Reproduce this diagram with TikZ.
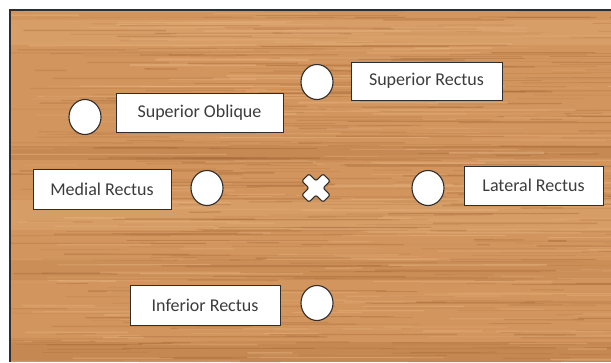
\documentclass[tikz,border=0pt]{standalone}
\usepackage{fontspec}
\setmainfont{Carlito}
\usetikzlibrary{shapes.geometric}
\definecolor{woodBase}{RGB}{210,149,93}
\definecolor{woodDark}{RGB}{160,98,50}
\definecolor{woodLight}{RGB}{232,182,130}
\definecolor{txt}{RGB}{60,60,60}
\definecolor{edge}{RGB}{50,45,45}
\tikzset{
  label box/.style={draw=edge, line width=0.9pt, fill=white, rectangle, inner sep=0pt,
    font=\fontsize{18}{21}\selectfont, text=txt},
  hole/.style={draw=edge, line width=1.1pt, fill=white, ellipse, inner sep=0pt,
    minimum width=32pt, minimum height=35pt},
}
\begin{document}
\begin{tikzpicture}[x=1pt,y=-1pt]
\useasboundingbox (0,0) rectangle (611,362);
% wood panel
\fill[woodBase] (10,10) rectangle (611,362);
\begin{scope}
\clip (10,10) rectangle (611,362);
\fill[woodDark,opacity=0.22] (10,146) rectangle (611,160);
\fill[woodDark,opacity=0.25] (10,342) rectangle (611,362);
\fill[woodLight,opacity=0.3] (10,20) rectangle (611,45);
\fill[woodLight,opacity=0.25] (10,200) rectangle (611,230);
\fill[woodDark,opacity=0.12] (10,260) rectangle (611,280);
\pgfmathsetseed{7}
\foreach \i in {1,...,450}{
  \pgfmathsetmacro\yy{10+rnd*352}
  \pgfmathsetmacro\xx{rnd*620}
  \pgfmathsetmacro\ll{30+rnd*200}
  \pgfmathsetmacro\oo{0.1+0.3*rnd}
  \pgfmathsetmacro\ww{0.4+1.2*rnd}
  \draw[woodDark,opacity=\oo,line width=\ww pt] (\xx,\yy) -- ++(\ll,0.6*rnd-0.3);
}
\foreach \i in {1,...,250}{
  \pgfmathsetmacro\yy{10+rnd*352}
  \pgfmathsetmacro\xx{rnd*620}
  \pgfmathsetmacro\ll{30+rnd*200}
  \pgfmathsetmacro\oo{0.15+0.35*rnd}
  \pgfmathsetmacro\ww{0.5+1.5*rnd}
  \draw[woodLight,opacity=\oo,line width=\ww pt] (\xx,\yy) -- ++(\ll,0.6*rnd-0.3);
}
\end{scope}
\draw[edge,line width=1.3pt] (10,362) -- (10,10) -- (611,10);
% holes
\node[hole] (sr) at (317,82) {};
\node[hole] (so) at (85,117) {};
\node[hole] (mr) at (207,188) {};
\node[hole] (lr) at (428,188) {};
\node[hole] (ir) at (317,303) {};
% labels
\node[label box, minimum width=151pt, minimum height=38pt] (srl) at (426.5,81) {Superior Rectus};
\node[label box, minimum width=167pt, minimum height=39pt] (sol) at (199.5,112.5) {Superior Oblique};
\node[label box, minimum width=138pt, minimum height=40pt] (mrl) at (102,189) {Medial Rectus};
\node[label box, minimum width=139pt, minimum height=39pt] (lrl) at (533.5,185.5) {Lateral Rectus};
\node[label box, minimum width=150pt, minimum height=40pt] (irl) at (205,305) {Inferior Rectus};
% centre cross
\begin{scope}[shift={(316,188)},rotate=45]
\draw[edge,line width=1.1pt,fill=white,rounded corners=2pt]
  (5,15) -- (5,5) -- (15,5) -- (15,-5) -- (5,-5) -- (5,-15) -- (-5,-15) -- (-5,-5)
  -- (-15,-5) -- (-15,5) -- (-5,5) -- (-5,15) -- cycle;
\end{scope}
\end{tikzpicture}
\end{document}
